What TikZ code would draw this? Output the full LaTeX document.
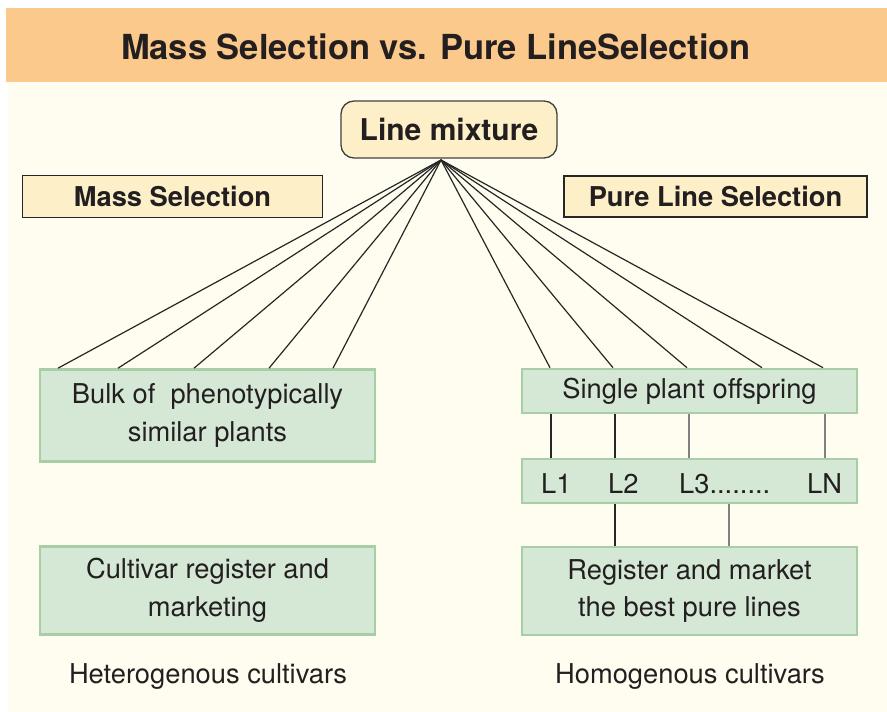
\documentclass[tikz,border=0pt]{standalone}
\usepackage{fontspec}
\setmainfont{TeX Gyre Heros}
\definecolor{bandorange}{HTML}{FCC98C}
\definecolor{cream}{HTML}{FFFDF0}
\definecolor{boxyellow}{HTML}{FDF0C8}
\definecolor{boxgreen}{HTML}{D5E8D5}
\definecolor{greenedge}{HTML}{A8CEA8}
\definecolor{ink}{HTML}{231F20}
\begin{document}
\begin{tikzpicture}[x=1pt,y=-1pt,
  yellowbox/.style={draw=black!85, fill=boxyellow, line width=1.3pt, inner sep=0pt,
     font=\fontsize{27.3}{30}\selectfont\bfseries, text=ink},
  greenbox/.style={draw=greenedge, fill=boxgreen, line width=2.6pt, inner sep=0pt,
     align=center, font=\fontsize{27.3}{37.5}\selectfont, text=ink},
  plain/.style={font=\fontsize{27.3}{37}\selectfont, text=ink, inner sep=0pt},
  fan/.style={draw=black!85, line width=1.2pt},
  darklink/.style={draw=black!85, line width=1.3pt},
  greylink/.style={draw=black!50, line width=1.3pt}]
\useasboundingbox (0,0) rectangle (887,712);
\fill[white] (0,0) rectangle (887,712);
\fill[cream] (8,82) rectangle (887,712);
\fill[bandorange] (6,8) rectangle (887,82);
\node[font=\fontsize{34.5}{40}\selectfont\bfseries, text=ink] (title) at (436,47) {Mass Selection vs. Pure LineSelection};

\node[draw=black!75, fill=boxyellow, line width=1.3pt, rounded corners=13pt,
  minimum width=216pt, minimum height=57pt, inner sep=0pt,
  font=\fontsize{30}{34}\selectfont\bfseries, text=ink] (mix) at (449,129.5) {Line mixture};
\coordinate (apex) at (441,160);

\node[yellowbox, minimum width=300pt, minimum height=41.5pt] (mass) at (172.5,196.5) {Mass Selection};
\node[yellowbox, minimum width=303pt, minimum height=41pt] (pure) at (715.5,196.5) {Pure Line Selection};

\node[greenbox, minimum width=335pt, minimum height=92pt] (bulk) at (207.5,415.5) {Bulk of\ \ phenotypically\\similar plants};
\node[greenbox, minimum width=335pt, minimum height=88pt] (cult) at (207.5,590.5) {Cultivar register and\\marketing};
\node[plain] (het) at (208,677) {Heterogenous cultivars};

\node[greenbox, minimum width=335pt, minimum height=44pt] (single) at (689.5,391) {Single plant offspring};
\node[greenbox, minimum width=335pt, minimum height=44pt] (lbox) at (689.5,481) {};
\node[plain, anchor=base west] (l1) at (541,493) {L1};
\node[plain, anchor=base west] (l2) at (608,493) {L2};
\node[plain, anchor=base west] (l3) at (679,493) {L3........};
\node[plain, anchor=base west] (ln) at (807,493) {LN};
\node[greenbox, minimum width=335pt, minimum height=88pt] (reg) at (689.5,591) {Register and market\\the best pure lines};
\node[plain] (hom) at (690,677) {Homogenous cultivars};

% fan from line mixture
\foreach \x in {58,118,194,269,333}
  \draw[fan] (apex) -- (\x,0 |- bulk.north);
\foreach \x in {550,613,687,762,823}
  \draw[fan] (apex) -- (\x,0 |- single.north);

% single -> lines
\draw[darklink] (551,0 |- single.south) -- (551,0 |- lbox.north);
\draw[darklink] (615,0 |- single.south) -- (615,0 |- lbox.north);
\draw[greylink] (689,0 |- single.south) -- (689,0 |- lbox.north);
\draw[greylink] (825,0 |- single.south) -- (825,0 |- lbox.north);
% lines -> register
\draw[darklink] (615,0 |- lbox.south) -- (615,0 |- reg.north);
\draw[greylink] (729,0 |- lbox.south) -- (729,0 |- reg.north);
\end{tikzpicture}
\end{document}
